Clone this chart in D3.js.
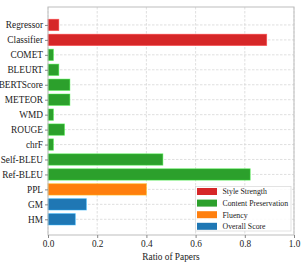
<!DOCTYPE html>
<html>
<head>
    <script src="https://cdnjs.cloudflare.com/ajax/libs/d3/7.8.5/d3.min.js"></script>
    <style>
        body { margin: 0; background: #fff; }
        text { font-family: "Liberation Serif", "DejaVu Serif", serif; fill: #222; }
    </style>
</head>
<body>
    <div id="chart"></div>
    <script>
        // metrics, top to bottom
        const metrics = ["Regressor", "Classifier", "COMET", "BLEURT", "BERTScore", "METEOR", "WMD",
            "ROUGE", "chrF", "Self-BLEU", "Ref-BLEU", "PPL", "GM", "HM"];
        const ratios = [0.044, 0.889, 0.022, 0.044, 0.089, 0.089, 0.022,
            0.067, 0.022, 0.467, 0.822, 0.4, 0.156, 0.111];
        const groups = ["Style Strength", "Style Strength", "Content Preservation", "Content Preservation",
            "Content Preservation", "Content Preservation", "Content Preservation", "Content Preservation",
            "Content Preservation", "Content Preservation", "Content Preservation", "Fluency",
            "Overall Score", "Overall Score"];
        const legendNames = ["Style Strength", "Content Preservation", "Fluency", "Overall Score"];
        const legendColors = ["#d62728", "#2ca02c", "#ff7f0e", "#1f77b4"];
        const xTicks = [0, 0.2, 0.4, 0.6, 0.8, 1.0];

        const W = 301, H = 267;
        const mLeft = 48, mRight = 294, mTop = 7, mBottom = 235;

        const svg = d3.select("#chart").append("svg")
            .attr("width", W).attr("height", H);

        const x = d3.scaleLinear().domain([0, 1]).range([mLeft, mRight]);
        // index 0 = top bar
        const y = d3.scaleLinear().domain([-1.2, metrics.length - 1 + 1.05]).range([mTop, mBottom]);
        const color = d3.scaleOrdinal().domain(legendNames).range(legendColors);

        // grid
        svg.append("g").selectAll("line").data(xTicks).enter().append("line")
            .attr("x1", d => x(d)).attr("x2", d => x(d))
            .attr("y1", mTop).attr("y2", mBottom)
            .attr("stroke", "#d8d8d8").attr("stroke-dasharray", "2.5,1.5").attr("stroke-width", 0.8);
        svg.append("g").selectAll("line").data(metrics).enter().append("line")
            .attr("x1", mLeft).attr("x2", mRight)
            .attr("y1", (d, i) => y(i)).attr("y2", (d, i) => y(i))
            .attr("stroke", "#d8d8d8").attr("stroke-dasharray", "2.5,1.5").attr("stroke-width", 0.8);

        // bars
        const bh = y(0.38) - y(-0.38);
        svg.append("g").selectAll("rect").data(metrics).enter().append("rect")
            .attr("x", x(0))
            .attr("y", (d, i) => y(i) - bh / 2)
            .attr("width", (d, i) => x(ratios[i]) - x(0))
            .attr("height", bh)
            .attr("fill", (d, i) => color(groups[i]))
            .attr("stroke", (d, i) => d3.color(color(groups[i])).brighter(1.2))
            .attr("stroke-opacity", 0.6)
            .attr("stroke-width", 0.8);

        // frame
        svg.append("rect")
            .attr("x", mLeft).attr("y", mTop)
            .attr("width", mRight - mLeft).attr("height", mBottom - mTop)
            .attr("fill", "none").attr("stroke", "#bdbdbd").attr("stroke-width", 1);

        // y axis
        const yAxis = d3.axisLeft(d3.scalePoint().domain(metrics)
            .range([y(0), y(metrics.length - 1)])).tickSize(3).tickPadding(2);
        const gy = svg.append("g").attr("transform", `translate(${mLeft},0)`).call(yAxis);
        gy.select(".domain").remove();
        gy.selectAll("line").attr("stroke", "#888");
        gy.selectAll("text").style("font-family", "Liberation Serif").style("font-size", "9.3px").attr("fill", "#222");

        // x axis
        const xAxis = d3.axisBottom(x).tickValues(xTicks).tickFormat(d3.format(".1f")).tickSize(3).tickPadding(2);
        const gx = svg.append("g").attr("transform", `translate(0,${mBottom})`).call(xAxis);
        gx.select(".domain").remove();
        gx.selectAll("line").attr("stroke", "#888");
        gx.selectAll("text").style("font-family", "Liberation Serif").style("font-size", "9.3px").attr("fill", "#222");

        svg.append("text")
            .attr("x", (mLeft + mRight) / 2).attr("y", 260)
            .attr("text-anchor", "middle")
            .style("font-size", "9.3px")
            .text("Ratio of Papers");

        // legend
        const lg = svg.append("g");
        lg.append("rect")
            .attr("x", 195.5).attr("y", 186.5).attr("width", 95.5).attr("height", 44.5)
            .attr("fill", "#fff").attr("fill-opacity", 0.85)
            .attr("stroke", "#dcdcdc").attr("stroke-width", 0.8);
        const items = lg.selectAll("g.item").data(legendNames).enter().append("g")
            .attr("transform", (d, i) => `translate(197,${191.5 + i * 11.6})`);
        items.append("rect")
            .attr("x", 0).attr("y", -3.5).attr("width", 20).attr("height", 7)
            .attr("fill", (d, i) => legendColors[i]);
        items.append("text")
            .attr("x", 25.5).attr("y", 2.8)
            .style("font-size", "7.8px")
            .text(d => d);
    </script>
</body>
</html>
